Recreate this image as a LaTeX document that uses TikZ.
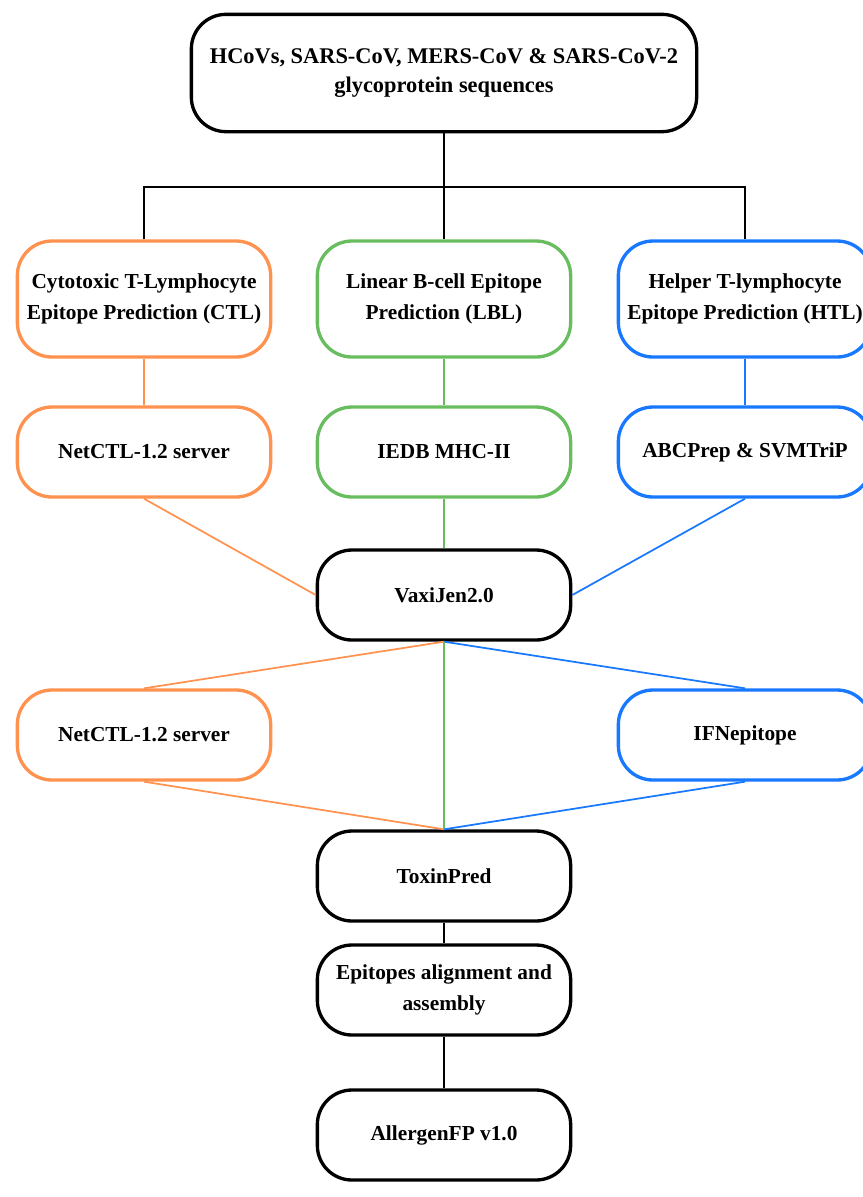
\documentclass[tikz,border=0pt]{standalone}
\usepackage{fontspec}
\setmainfont{Liberation Serif}
\usetikzlibrary{calc,positioning}
\definecolor{ctl}{RGB}{255,146,78}
\definecolor{lbl}{RGB}{104,190,94}
\definecolor{htl}{RGB}{24,120,255}

\begin{document}
\begin{tikzpicture}[x=0.75pt,y=-0.75pt, every node/.style={font=\bfseries\fontsize{16}{23}\selectfont, align=center},
    box/.style={draw, line width=2.5pt, rounded corners=26pt, minimum width=190pt, minimum height=67.5pt, fill=white},
    tall/.style={box, minimum height=87pt},
    link/.style={line width=1.3pt}]
        \useasboundingbox (0,0) rectangle (863,1197);
        \node[box, minimum width=379pt, minimum height=88pt, font=\bfseries\fontsize{16.8}{22}\selectfont] (1) at (444,73) {HCoVs, SARS-CoV, MERS-CoV \& SARS-CoV-2\\glycoprotein sequences};

        \node[tall, draw=ctl] (2) at (144,299) {Cytotoxic T-Lymphocyte\\Epitope Prediction (CTL)};
        \node[tall, draw=lbl] (3) at (444,299) {Linear B-cell Epitope\\Prediction (LBL)};
        \node[tall, draw=htl] (4) at (745,299) {Helper T-lymphocyte\\Epitope Prediction (HTL)};

        \node[box, draw=ctl] (5) at (144,452) {NetCTL-1.2 server};
        \node[box, draw=lbl] (6) at (444,452) {IEDB MHC-II};
        \node[box, draw=htl] (7) at (745,452) {ABCPrep \& SVMTriP};

        \node[box] (8) at (444,595) {VaxiJen2.0};

        \node[box, draw=ctl] (9) at (144,735) {NetCTL-1.2 server};
        \node[box, draw=htl] (10) at (745,735) {IFNepitope};

        \node[box] (11) at (444,876) {ToxinPred};
        \node[box] (12) at (444,990) {Epitopes alignment and\\assembly};
        \node[box] (13) at (444,1135) {AllergenFP v1.0};

        \coordinate (j) at (444,187);
        \draw[link] (1.south) -- (j);
        \draw[link] (2.north) -- (2.north |- j) -- (4.north |- j) -- (4.north);
        \draw[link] (j) -- (3.north);

        % branches
        \draw[link, ctl] (2.south) -- (5.north);
        \draw[link, lbl] (3.south) -- (6.north);
        \draw[link, htl] (4.south) -- (7.north);
        \draw[link, ctl] (5.south) -- (8.west);
        \draw[link, lbl] (6.south) -- (8.north);
        \draw[link, htl] (7.south) -- (8.east);

        \draw[link, ctl] (8.south) -- (9.north);
        \draw[link, htl] (8.south) -- (10.north);
        \draw[link, lbl] (8.south) -- (11.north);
        \draw[link, ctl] (9.south) -- (11.north);
        \draw[link, htl] (10.south) -- (11.north);

        \draw[link] (11.south) -- (12.north);
        \draw[link] (12.south) -- (13.north);
    \end{tikzpicture}
\end{document}
